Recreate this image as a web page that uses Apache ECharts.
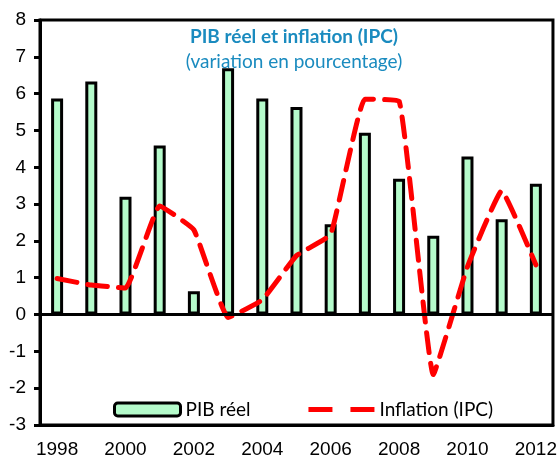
<!DOCTYPE html>
<html>
<head>
<meta charset="utf-8">
<script src="https://cdn.jsdelivr.net/npm/echarts@6/dist/echarts.min.js"></script>
<style>
  html, body { margin: 0; padding: 0; background: #fff; }
  #chart { width: 560px; height: 459px; }
</style>
</head>
<body>
<div id="chart"></div>
<script>
const years = ['1998', '1999', '2000', '2001', '2002', '2003', '2004', '2005',
  '2006', '2007', '2008', '2009', '2010', '2011', '2012']
const pibReel = [5.87, 6.33, 3.2, 4.59, 0.63, 6.69, 5.87, 5.64, 2.45, 4.94, 3.69, 2.14, 4.29, 2.59, 3.55]
const inflation = [0.98, 0.8, 0.72, 2.95, 2.3, -0.08, 0.4, 1.6, 2.18, 5.85, 5.8, -1.63, 1.3, 3.36, 1.35]
const yTicks = { min: -3, max: 8, step: 1 }

const chart = echarts.init(document.getElementById('chart'))
chart.setOption({
  animation: false,
  title: {
    text: 'PIB réel et inflation (IPC)',
    subtext: '(variation en pourcentage)',
    left: 289,
    top: 22,
    textAlign: 'center',
    itemGap: 6,
    textStyle: { fontFamily: 'Lato', fontWeight: 'bold', fontSize: 19, color: '#1a8bbf' },
    subtextStyle: { fontFamily: 'Lato', fontSize: 19, color: '#1a8bbf' }
  },
  grid: {
    left: 40, right: 7, top: 20, bottom: 33,
    show: true, borderColor: '#000', borderWidth: 3
  },
  legend: {
    left: 108,
    top: 395,
    itemWidth: 66,
    itemHeight: 13,
    itemGap: 58,
    textStyle: { fontFamily: 'Lato', fontSize: 19, color: '#000' },
    data: [
      { name: 'PIB réel', itemStyle: { borderColor: '#000', borderWidth: 3 } },
      {
        name: 'Inflation (IPC)',
        icon: 'path://M0,0h24v5h-24z M42,0h24v5h-24z',
        itemStyle: { color: '#ff0000' }
      }
    ]
  },
  xAxis: {
    type: 'category',
    data: years,
    axisLine: { onZero: false, lineStyle: { color: '#000', width: 3 } },
    axisTick: { show: false },
    axisLabel: {
      interval: 1,
      margin: 15,
      fontFamily: 'Liberation Sans',
      fontSize: 19,
      color: '#000'
    }
  },
  yAxis: {
    type: 'value',
    min: yTicks.min,
    max: yTicks.max,
    interval: yTicks.step,
    axisLine: { show: true, lineStyle: { color: '#000', width: 3 } },
    axisTick: { show: true, length: 6, lineStyle: { color: '#000', width: 3 } },
    splitLine: { show: false },
    axisLabel: {
      margin: 14,
      fontFamily: 'Liberation Sans',
      fontSize: 19,
      color: '#000'
    }
  },
  series: [
    {
      name: 'PIB réel',
      type: 'bar',
      data: pibReel,
      barWidth: 12,
      itemStyle: { color: '#b5fbcb', borderColor: '#000', borderWidth: 3 },
      markLine: {
        silent: true,
        symbol: 'none',
        label: { show: false },
        lineStyle: { color: '#000', width: 3, type: 'solid' },
        data: [{ yAxis: 0 }]
      }
    },
    {
      name: 'Inflation (IPC)',
      type: 'line',
      data: inflation,
      smooth: 0.1,
      symbol: 'none',
      lineStyle: { color: '#ff0000', width: 5, type: [20, 11], cap: 'round' },
      itemStyle: { color: '#ff0000' }
    }
  ]
})
</script>
</body>
</html>
